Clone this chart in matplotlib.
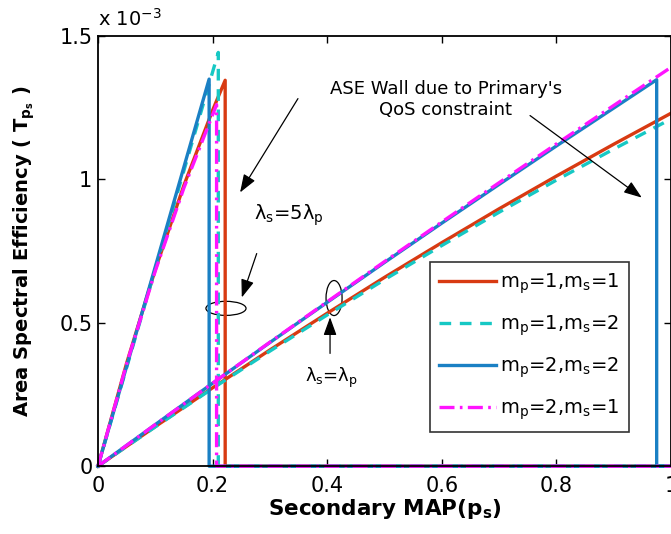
import matplotlib
matplotlib.use('Agg')
import matplotlib.pyplot as plt
from matplotlib.patches import Ellipse

# ASE values in units of 1e-3
# lambda_s = lambda_p curves
x_low = [0.0, 0.1, 0.2, 0.3, 0.4, 0.5, 0.6, 0.7, 0.8, 0.9, 1.0]
red_low = [0.0, 0.138, 0.273, 0.405, 0.533, 0.658, 0.779, 0.897, 1.011, 1.122, 1.230]
cyan_low = [0.0, 0.137, 0.271, 0.401, 0.527, 0.650, 0.769, 0.885, 0.997, 1.105, 1.210]
magenta_low = [0.0, 0.145, 0.289, 0.432, 0.573, 0.713, 0.851, 0.988, 1.123, 1.257, 1.390]
x_blue_low = [0.0, 0.1, 0.2, 0.3, 0.4, 0.5, 0.6, 0.7, 0.8, 0.9, 0.975, 0.975, 1.0]
blue_low = [0.0, 0.145, 0.289, 0.431, 0.571, 0.710, 0.847, 0.982, 1.116, 1.248, 1.347, 0.0, 0.0]

# lambda_s = 5 lambda_p curves (drop to zero past the QoS wall)
x_red_high = [0.0, 0.05, 0.1, 0.15, 0.2, 0.222, 0.222, 1.0]
red_high = [0.0, 0.359, 0.685, 0.979, 1.240, 1.345, 0.0, 0.0]
x_cyan_high = [0.0, 0.1, 0.21, 0.21, 1.0]
cyan_high = [0.0, 0.687, 1.442, 0.0, 0.0]
x_blue_high = [0.0, 0.1, 0.194, 0.194, 1.0]
blue_high = [0.0, 0.695, 1.349, 0.0, 0.0]
x_magenta_high = [0.0, 0.05, 0.1, 0.15, 0.207, 0.207, 1.0]
magenta_high = [0.0, 0.356, 0.680, 0.970, 1.260, 0.0, 0.0]

labels = ['m$_\\mathregular{p}$=1,m$_\\mathregular{s}$=1',
          'm$_\\mathregular{p}$=1,m$_\\mathregular{s}$=2',
          'm$_\\mathregular{p}$=2,m$_\\mathregular{s}$=2',
          'm$_\\mathregular{p}$=2,m$_\\mathregular{s}$=1']

c_red = '#d83a12'
c_cyan = '#16c8c4'
c_blue = '#1a80c4'
c_mag = '#ff14ff'
lw = 2.4
dashed = (0, (3.5, 2.6))
dashdot = (0, (4.5, 1.6, 0.8, 1.6))

plt.rcParams['font.family'] = 'DejaVu Sans'
plt.rcParams['mathtext.default'] = 'regular'

fig = plt.figure(figsize=(6.71, 5.34), dpi=100)
ax = fig.add_axes([0.146, 0.127, 0.854, 0.806])

ax.plot(x_red_high, red_high, color=c_red, lw=lw, clip_on=False)
ax.plot(x_low, red_low, color=c_red, lw=lw, clip_on=False, label=labels[0])
ax.plot(x_cyan_high, cyan_high, color=c_cyan, lw=lw, ls=dashed, clip_on=False)
ax.plot(x_low, cyan_low, color=c_cyan, lw=lw, ls=dashed, clip_on=False, label=labels[1])
ax.plot(x_blue_high, blue_high, color=c_blue, lw=lw, clip_on=False)
ax.plot(x_blue_low, blue_low, color=c_blue, lw=lw, clip_on=False, label=labels[2])
ax.plot(x_magenta_high, magenta_high, color=c_mag, lw=lw, ls=dashdot, clip_on=False)
ax.plot(x_low, magenta_low, color=c_mag, lw=lw, ls=dashdot, clip_on=False, label=labels[3])

ax.set_xlim(0, 1)
ax.set_ylim(0, 1.5)
ax.set_xticks([0, 0.2, 0.4, 0.6, 0.8, 1.0])
ax.set_xticklabels(['0', '0.2', '0.4', '0.6', '0.8', '1'])
ax.set_yticks([0, 0.5, 1.0, 1.5])
ax.set_yticklabels(['0', '0.5', '1', '1.5'])
ax.tick_params(direction='in', length=5, width=1, labelsize=15, top=True, right=True)
ax.tick_params(axis='x', pad=7)
ax.tick_params(axis='y', pad=4)
for s in ax.spines.values():
    s.set_linewidth(1.3)

ax.text(0.0, 1.015, 'x 10$^{-3}$', transform=ax.transAxes, fontsize=14, ha='left', va='bottom')
ax.set_xlabel('Secondary MAP(p$_\\mathregular{s}$)', fontsize=15.5, fontweight='bold', labelpad=1)
ax.set_ylabel('Area Spectral Efficiency ( T$_\\mathregular{p_s}$ )', fontsize=14, fontweight='bold', labelpad=16)

leg = ax.legend(loc='upper left', bbox_to_anchor=(0.579, 0.474), fontsize=14, frameon=True,
                fancybox=False, edgecolor='black', handlelength=2.9, handletextpad=0.2,
                labelspacing=0.9, borderpad=0.5, borderaxespad=0)
leg.get_frame().set_linewidth(1.2)

arrow = dict(arrowstyle='-|>,head_length=1.1,head_width=0.4', color='black', lw=0.9, shrinkA=0, shrinkB=0)

ax.text(0.607, 1.278, "ASE Wall due to Primary's\nQoS constraint", fontsize=13, ha='center', va='center',
        linespacing=1.25)
ax.annotate('', xy=(0.248, 0.954), xytext=(0.349, 1.281), arrowprops=arrow)
ax.annotate('', xy=(0.949, 0.936), xytext=(0.754, 1.222), arrowprops=arrow)

ax.text(0.272, 0.874, '$\\lambda_\\mathregular{s}$=5$\\lambda_\\mathregular{p}$', fontsize=14, ha='left', va='center')
ax.annotate('', xy=(0.251, 0.588), xytext=(0.277, 0.741), arrowprops=arrow)
ax.add_patch(Ellipse((0.2234, 0.55), 0.07, 0.049, fill=False, ec='black', lw=0.9))

ax.text(0.407, 0.306, '$\\lambda_\\mathregular{s}$=$\\lambda_\\mathregular{p}$', fontsize=13, ha='center', va='center')
ax.annotate('', xy=(0.405, 0.519), xytext=(0.405, 0.393), arrowprops=arrow)
ax.add_patch(Ellipse((0.412, 0.586), 0.028, 0.122, fill=False, ec='black', lw=0.9))

fig.savefig('out.png', dpi=100)
